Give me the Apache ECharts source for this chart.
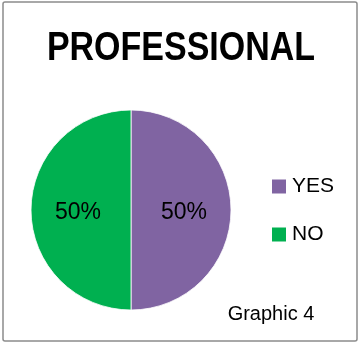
<!DOCTYPE html>
<html>
<head>
<meta charset="utf-8">
<script src="https://cdn.jsdelivr.net/npm/echarts@6/dist/echarts.min.js"></script>
<style>
  html, body { margin: 0; padding: 0; background: #fff; }
  #chart { width: 363px; height: 345px; }
</style>
</head>
<body>
<div id="chart"></div>
<script>
// Answer categories and their shares
const categories = ['YES', 'NO'];
const shares = [50, 50];
const sliceColors = ['#8064A2', '#00B050'];
const titleText = 'PROFESSIONAL';
const captionText = 'Graphic 4';

const chart = echarts.init(document.getElementById('chart'), null, { renderer: 'canvas' });

const font = '"Liberation Sans", Arial, sans-serif';

chart.setOption({
  animation: false,
  backgroundColor: '#fff',
  color: sliceColors,
  legend: {
    orient: 'vertical',
    left: 270,
    top: 176,
    padding: 0,
    icon: 'rect',
    itemWidth: 16,
    itemHeight: 16,
    itemGap: 27,
    data: categories,
    textStyle: { fontFamily: font, fontSize: 21, color: '#000' }
  },
  graphic: [
    {
      type: 'rect',
      shape: { x: 3, y: 2, width: 354, height: 339, r: 2 },
      style: { fill: 'none', stroke: '#8c8c8c', lineWidth: 1.5 },
      silent: true
    },
    {
      type: 'text',
      x: 181,
      y: 49,
      scaleX: 0.85,
      style: {
        text: titleText,
        font: 'bold 40px ' + font,
        fill: '#000',
        align: 'center',
        verticalAlign: 'middle'
      }
    },
    {
      type: 'text',
      x: 271,
      y: 314,
      style: {
        text: captionText,
        font: '20px ' + font,
        fill: '#000',
        align: 'center',
        verticalAlign: 'middle'
      }
    }
  ],
  series: [{
    type: 'pie',
    center: [131, 210],
    radius: [0, 100],
    startAngle: 90,
    clockwise: true,
    itemStyle: { borderColor: '#fff', borderWidth: 0.8 },
    label: {
      show: true,
      position: 'inside',
      formatter: p => p.value + '%',
      fontFamily: font,
      fontSize: 23,
      color: '#000',
      offset: [0, 3]
    },
    labelLine: { show: false },
    emphasis: { disabled: true },
    data: categories.map((c, i) => ({ name: c, value: shares[i] }))
  }]
});
</script>
</body>
</html>
